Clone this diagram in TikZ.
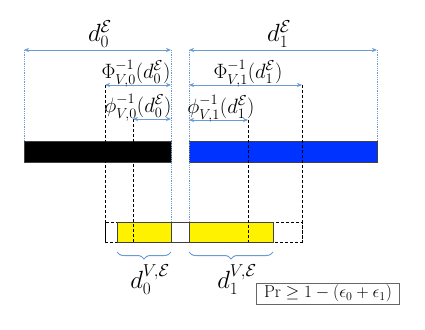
\documentclass[tikz,border=0pt]{standalone}
\usepackage{amsmath,amssymb}
\usepackage{tikz}
\usetikzlibrary{arrows.meta,positioning,decorations.pathreplacing}
\definecolor{arr}{RGB}{106,155,209}
\definecolor{blu}{RGB}{0,51,255}

\begin{document}
\begin{tikzpicture}[x=1pt,y=-1pt,
  dim/.style={{Stealth[length=1.8mm,width=1.5mm]}-{Stealth[length=1.8mm,width=1.5mm]},draw=arr,line width=0.9pt},
  guide/.style={draw=arr,densely dotted,line width=0.8pt},
  cut/.style={draw=black,densely dashed,line width=0.6pt},
  bar/.style={draw=black!75,line width=0.6pt},
  lbl/.style={font=\fontsize{19.5}{23}\selectfont,inner sep=0pt,anchor=south},
  big/.style={font=\fontsize{23}{27}\selectfont,inner sep=0pt},
  brc/.style={decorate,decoration={brace,mirror,amplitude=7pt},draw=arr,line width=1pt}]
  \useasboundingbox (0,0) rectangle (425,329);
  % levels
  \coordinate (top) at (0,141); \coordinate (bot) at (0,222); \coordinate (base) at (0,242);
  \coordinate (L0) at (24,50); \coordinate (R0) at (171,50);
  \coordinate (L1) at (189,50); \coordinate (R1) at (377,50);
  \coordinate (P0) at (105,85); \coordinate (P1) at (302,85);
  \coordinate (q0) at (133,119); \coordinate (q1) at (248,120);
  % bars
  \draw[bar,fill=black] (L0 |- top) rectangle (R0 |- 0,162);
  \draw[bar,fill=blu] (L1 |- top) rectangle (R1 |- 0,162);
  \draw[cut] (P0 |- bot) rectangle (P1 |- base);
  \draw[bar,fill=white] (117,222) rectangle (273,242);
  \draw[bar,fill=yellow] (117,222) rectangle (R0 |- base);
  \draw[bar,fill=yellow] (L1 |- bot) rectangle (273,242);
  % guides and cuts
  \draw[guide] (L0) -- (L0 |- top); \draw[guide] (R1) -- (R1 |- top);
  \draw[guide] (R0) -- (R0 |- bot); \draw[guide] (L1) -- (L1 |- bot);
  \draw[cut] (P0) -- (P0 |- base); \draw[cut] (P1) -- (P1 |- base);
  \draw[cut] (q0) -- (q0 |- base); \draw[cut] (q1) -- (q1 |- base);
  % dimensions
  \draw[dim] (L0) -- (R0); \draw[dim] (L1) -- (R1);
  \draw[dim] (P0) -- (R0 |- P0); \draw[dim] (L1 |- P1) -- (P1);
  \draw[dim] (q0) -- (R0 |- q0); \draw[dim] (L1 |- q1) -- (q1);
  \node[big,anchor=south] (d0) at (100,48) {$d_0^{\mathcal{E}}$};
  \node[big,anchor=south] (d1) at (279,48) {$d_1^{\mathcal{E}}$};
  \node[lbl] (F0) at (136,87) {$\Phi_{V,0}^{-1}(d_0^{\mathcal{E}})$};
  \node[lbl] (F1) at (248,87) {$\Phi_{V,1}^{-1}(d_1^{\mathcal{E}})$};
  \node[lbl] (f0) at (138,121) {$\phi_{V,0}^{-1}(d_0^{\mathcal{E}})$};
  \node[lbl] (f1) at (221,122) {$\phi_{V,1}^{-1}(d_1^{\mathcal{E}})$};
  % braces
  \draw[brc] (117,252) -- (R0 |- 0,252);
  \draw[brc] (L1 |- 0,252) -- (273,252);
  \node[big] (v0) at (150,280) {$d_0^{V,\mathcal{E}}$};
  \node[big] (v1) at (237,280) {$d_1^{V,\mathcal{E}}$};
  \node[draw=black!60,line width=0.6pt,minimum width=143pt,minimum height=21pt,inner sep=1pt,font=\fontsize{16.5}{19}\selectfont] (pr) at (328,293.5) {$\Pr \geq 1-(\epsilon_0+\epsilon_1)$};
\end{tikzpicture}
\end{document}
